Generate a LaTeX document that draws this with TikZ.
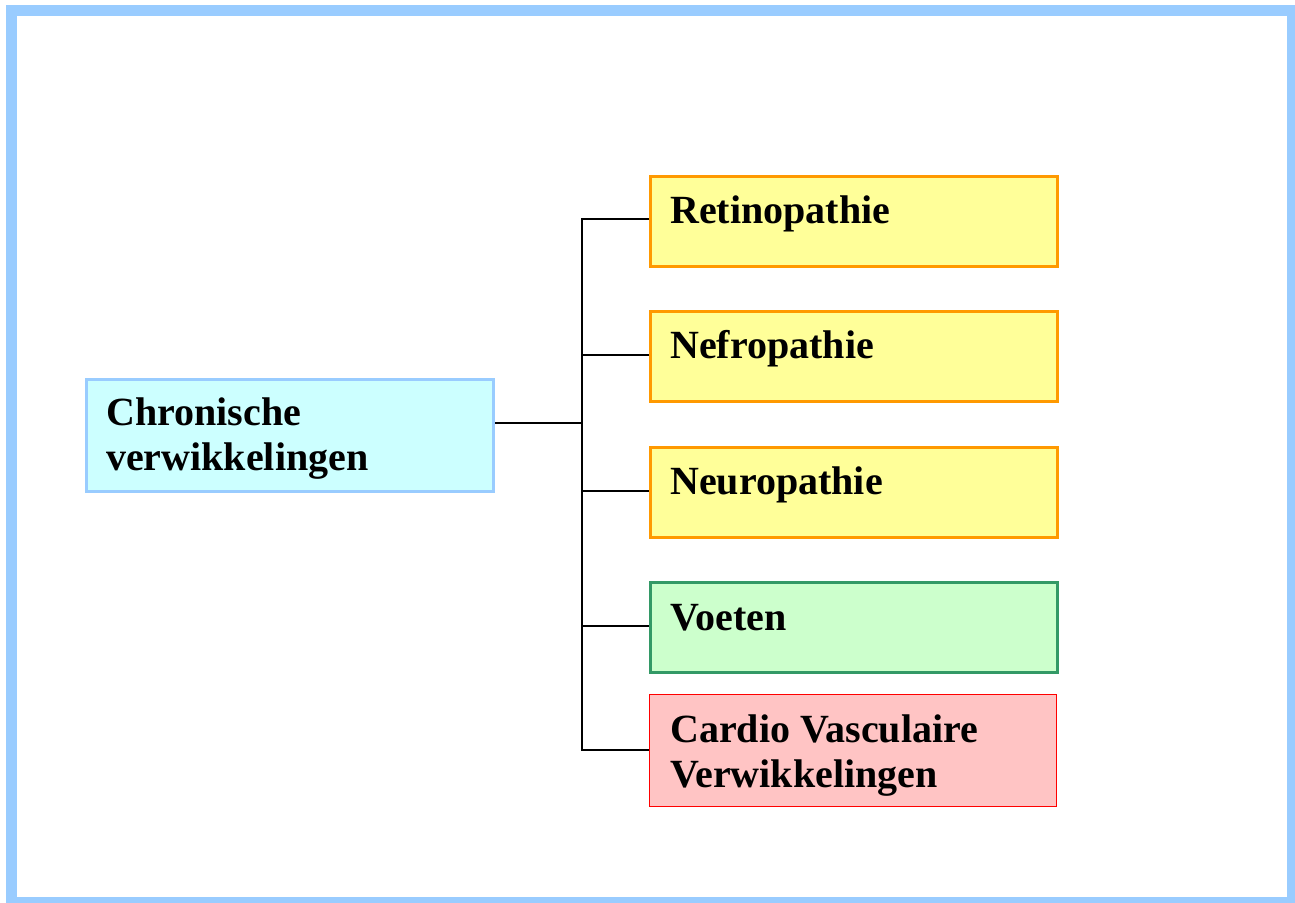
\documentclass[tikz,border=0pt]{standalone}
\usepackage{fontspec}
\setmainfont{Liberation Serif}
\usetikzlibrary{calc}
\definecolor{frameblue}{HTML}{99CCFF}
\definecolor{cyanfill}{HTML}{CCFFFF}
\definecolor{orangeline}{HTML}{FF9900}
\definecolor{yellowfill}{HTML}{FFFF99}
\definecolor{greenline}{HTML}{339966}
\definecolor{greenfill}{HTML}{CCFFCC}
\definecolor{redline}{HTML}{FF0000}
\definecolor{redfill}{HTML}{FFC4C4}
\tikzset{
  box/.style={rectangle, anchor=north west, inner sep=0pt, minimum width=407pt},
  mainbox/.style={box, draw=frameblue, fill=cyanfill, line width=3pt, minimum height=112pt},
  yellowbox/.style={box, draw=orangeline, fill=yellowfill, line width=3pt, minimum height=90pt},
  greenbox/.style={box, draw=greenline, fill=greenfill, line width=3pt, minimum height=90pt},
  redbox/.style={box, draw=redline, fill=redfill, line width=1.3pt, minimum height=112pt},
  lbl/.style={anchor=base west, inner sep=0pt, align=left, font=\fontsize{40pt}{45.5pt}\selectfont\bfseries},
  conn/.style={draw=black, line width=1.5pt},
}
\begin{document}
\begin{tikzpicture}[x=1pt,y=-1pt]
\useasboundingbox (0,0) rectangle (1295,902);
\fill[white] (0,0) rectangle (1295,902);
\draw[frameblue, line width=11pt] (11.5,10.5) rectangle (1292.5,902.5);

\node[mainbox] (chron) at (85,378) {};
\node[lbl] (chront) at ($(chron.north west)+(21,92.5)$) {Chronische\\verwikkelingen};

\node[yellowbox] (ret) at (649,175) {};
\node[lbl] (rett) at ($(ret.north west)+(21,48)$) {Retinopathie};
\node[yellowbox] (nef) at (649,310) {};
\node[lbl] (neft) at ($(nef.north west)+(21,48)$) {Nefropathie};
\node[yellowbox] (neu) at (649,446) {};
\node[lbl] (neut) at ($(neu.north west)+(21,48)$) {Neuropathie};
\node[greenbox] (voe) at (649,581) {};
\node[lbl] (voet) at ($(voe.north west)+(21,49)$) {Voeten};
\node[redbox] (car) at (649,694) {};
\node[lbl] (cart) at ($(car.north west)+(21,93.5)$) {Cardio Vasculaire\\Verwikkelingen};

\coordinate (hub) at (582,423);
\coordinate (top) at (582,219);
\coordinate (bot) at (582,750);
\draw[conn] (chron.east |- hub) -- (hub);
\draw[conn] (ret.west |- top) -- (top) -- (bot) -- (car.west |- bot);
\draw[conn] (582,355) -- (nef.west |- 0,355);
\draw[conn] (582,491) -- (neu.west |- 0,491);
\draw[conn] (582,626) -- (voe.west |- 0,626);
\end{tikzpicture}
\end{document}
